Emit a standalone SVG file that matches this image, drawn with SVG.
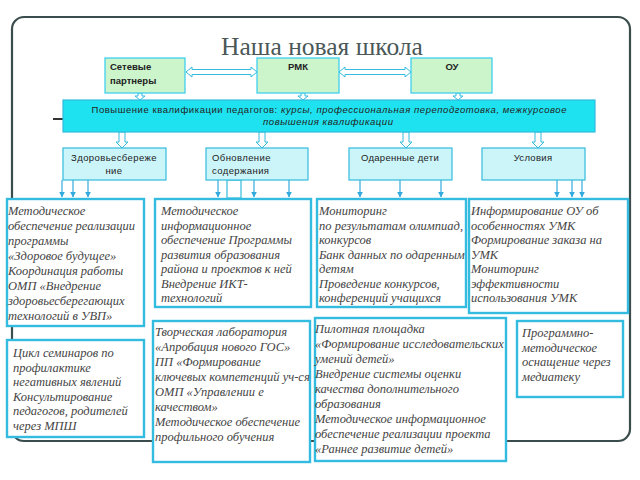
<svg xmlns="http://www.w3.org/2000/svg" width="640" height="480" viewBox="0 0 640 480">
<defs>
<style>
.frame{fill:#fff;stroke:#3a4c4c;stroke-width:2.2}
.top{fill:#ccf5cc;stroke:#33ccee;stroke-width:1.2}
.bar{fill:#1ee2f0;stroke:#33bbdd;stroke-width:1.2}
.r2{fill:#ccf5fa;stroke:#33bbdd;stroke-width:1.2}
.r3{fill:#fff;stroke:#33bbe0;stroke-width:2.4}
.ha{fill:#fff;stroke:#33bbe0;stroke-width:1}
.ta{stroke:#33aadd;stroke-width:1.2;fill:none;marker-end:url(#ah)}
.sans{font-family:"Liberation Sans",Arial,sans-serif;font-size:9.5px;fill:#222}
.b{font-weight:bold}
.it{font-family:"Liberation Serif","Times New Roman",serif;font-style:italic;font-size:12.5px;fill:#444}
.title{font-family:"Liberation Serif","Times New Roman",serif;font-size:25.5px;fill:#4a5858}
</style>
<marker id="ah" viewBox="0 0 10 10" refX="9" refY="5" markerWidth="6" markerHeight="6" orient="auto" markerUnits="userSpaceOnUse">
<path d="M0,0 L10,5 L0,10 z" fill="#33aadd"/>
</marker>
</defs>
<rect width="640" height="480" fill="#fff"/>
<rect class="frame" x="12" y="17" width="618" height="424" rx="12"/>
<text class="title" x="322" y="55" text-anchor="middle">Наша новая школа</text>
<line x1="53" y1="119" x2="63" y2="119" stroke="#333" stroke-width="2"/>

<g id="connectors">
<polygon class="ha" points="186,72 192,67 192,69.5 251,69.5 251,67 257,72 251,77 251,74.5 192,74.5 192,77"/>
<polygon class="ha" points="339,72 345,67 345,69.5 405,69.5 405,67 411,72 405,77 405,74.5 345,74.5 345,77"/>
<polygon class="ha" points="138,93 142,93 142,96 145,96 140,100 135,96 138,96"/>
<polygon class="ha" points="301,93 305,93 305,96 308,96 303,100 298,96 301,96"/>
<polygon class="ha" points="456,93 460,93 460,96 463,96 458,100 453,96 456,96"/>
<polygon class="ha" points="119,132 125,132 125,142 128,142 122,148 116,142 119,142"/>
<polygon class="ha" points="259,132 265,132 265,142 268,142 262,148 256,142 259,142"/>
<polygon class="ha" points="403,132 409,132 409,142 412,142 406,148 400,142 403,142"/>
<polygon class="ha" points="535,132 541,132 541,142 544,142 538,148 532,142 535,142"/>
<line class="ta" x1="62" y1="180" x2="62" y2="197"/>
<line class="ta" x1="73" y1="180" x2="73" y2="197"/>
<line class="ta" x1="88" y1="180" x2="88" y2="197"/>
<line class="ta" x1="218" y1="180" x2="218" y2="197"/>
<line class="ta" x1="254" y1="180" x2="254" y2="197"/>
<line class="ta" x1="289" y1="180" x2="289" y2="197"/>
<rect x="227" y="180" width="14" height="18" fill="#fff" stroke="#33bbdd" stroke-width="1.2"/>
<line class="ta" x1="360" y1="180" x2="360" y2="197"/>
<line class="ta" x1="400" y1="180" x2="400" y2="197"/>
<line class="ta" x1="441" y1="180" x2="441" y2="197"/>
<line class="ta" x1="557" y1="180" x2="557" y2="197"/>
<line class="ta" x1="572" y1="180" x2="572" y2="197"/>
<line class="ta" x1="582" y1="180" x2="582" y2="197"/>
</g>

<g id="n-partners">
<rect class="top" x="105" y="58" width="80" height="35"/>
<text class="sans b" x="110" y="70">Сетевые</text>
<text class="sans b" x="110" y="84">партнеры</text>
</g>
<g id="n-rmk">
<rect class="top" x="257" y="58" width="82" height="35"/>
<text class="sans b" x="298" y="70" text-anchor="middle">РМК</text>
</g>
<g id="n-ou">
<rect class="top" x="411" y="58" width="81" height="35"/>
<text class="sans b" x="452" y="70" text-anchor="middle">ОУ</text>
</g>
<g id="n-bar">
<rect class="bar" x="63" y="100" width="532" height="32"/>
<text class="sans" x="329" y="113" text-anchor="middle" textLength="475" lengthAdjust="spacing">Повышение квалификации педагогов: <tspan font-style="italic">курсы, профессиональная переподготовка, межкурсовое</tspan></text>
<text class="sans" x="328" y="125" text-anchor="middle" font-style="italic" textLength="130" lengthAdjust="spacing">повышения квалификации</text>
</g>
<g id="n-health">
<rect class="r2" x="63" y="148" width="103" height="32"/>
<text class="sans" x="114" y="161" text-anchor="middle" letter-spacing="0.4">Здоровьесбереже</text>
<text class="sans" x="114" y="174" text-anchor="middle" letter-spacing="0.4">ние</text>
</g>
<g id="n-content">
<rect class="r2" x="206" y="148" width="102" height="32"/>
<text class="sans" x="212" y="161" letter-spacing="0.4">Обновление</text>
<text class="sans" x="212" y="174" letter-spacing="0.4">содержания</text>
</g>
<g id="n-gifted">
<rect class="r2" x="349" y="148" width="103" height="32"/>
<text class="sans" x="400" y="161" text-anchor="middle" letter-spacing="0.3">Одаренные дети</text>
</g>
<g id="n-cond">
<rect class="r2" x="482" y="148" width="103" height="32"/>
<text class="sans" x="533" y="161" text-anchor="middle" letter-spacing="0.3">Условия</text>
</g>

<g id="n-a">
<rect class="r3" x="7" y="199" width="137" height="127"/>
<text class="it"><tspan x="8" y="215">Методическое</tspan><tspan x="8" y="230">обеспечение реализации</tspan><tspan x="8" y="245">программы</tspan><tspan x="8" y="260">«Здоровое будущее»</tspan><tspan x="8" y="275">Координация работы</tspan><tspan x="8" y="290">ОМП «Внедрение</tspan><tspan x="8" y="305">здоровьесберегающих</tspan><tspan x="8" y="320">технологий в УВП»</tspan></text>
</g>
<g id="n-b">
<rect class="r3" x="155" y="199" width="156" height="108"/>
<text class="it"><tspan x="161" y="215">Методическое</tspan><tspan x="161" y="229.5">информационное</tspan><tspan x="161" y="244">обеспечение  Программы</tspan><tspan x="161" y="258.5">развития образования</tspan><tspan x="161" y="273">района и проектов к ней</tspan><tspan x="161" y="287.5">Внедрение ИКТ-</tspan><tspan x="161" y="302">технологий</tspan></text>
</g>
<g id="n-c">
<rect class="r3" x="317" y="199" width="149" height="108"/>
<text class="it"><tspan x="319" y="215">Мониторинг</tspan><tspan x="319" y="229.5">по результатам олимпиад,</tspan><tspan x="319" y="244">конкурсов</tspan><tspan x="319" y="258.5">Банк данных по одаренным</tspan><tspan x="319" y="273">детям</tspan><tspan x="319" y="287.5">Проведение конкурсов,</tspan><tspan x="319" y="302">конференций  учащихся</tspan></text>
</g>
<g id="n-d">
<rect class="r3" x="469" y="199" width="159" height="114"/>
<text class="it"><tspan x="471" y="215">Информирование ОУ об</tspan><tspan x="471" y="229.5">особенностях УМК</tspan><tspan x="471" y="244">Формирование заказа на</tspan><tspan x="471" y="258.5">УМК</tspan><tspan x="471" y="273">Мониторинг</tspan><tspan x="471" y="287.5">эффективности</tspan><tspan x="471" y="302">использования УМК</tspan></text>
</g>
<g id="n-e">
<rect class="r3" x="7" y="340" width="137" height="97"/>
<text class="it"><tspan x="13" y="357">Цикл семинаров по</tspan><tspan x="13" y="371.6">профилактике</tspan><tspan x="13" y="386.2">негативных явлений</tspan><tspan x="13" y="400.8">Консультирование</tspan><tspan x="13" y="415.4">педагогов, родителей</tspan><tspan x="13" y="430">через МПШ</tspan></text>
</g>
<g id="n-f">
<rect class="r3" x="153" y="321" width="157" height="141"/>
<text class="it"><tspan x="155" y="336">Творческая лаборатория</tspan><tspan x="155" y="351">«Апробация нового ГОС»</tspan><tspan x="155" y="366">ПП «Формирование</tspan><tspan x="155" y="381">ключевых компетенций уч-ся</tspan><tspan x="155" y="396">ОМП «Управлении е</tspan><tspan x="155" y="411">качеством»</tspan><tspan x="155" y="426">Методическое обеспечение</tspan><tspan x="155" y="441">профильного обучения</tspan></text>
</g>
<g id="n-g">
<rect class="r3" x="315" y="318" width="191" height="143"/>
<text class="it"><tspan x="315" y="333">Пилотная площадка</tspan><tspan x="315" y="348">«Формирование исследовательских</tspan><tspan x="315" y="363">умений детей»</tspan><tspan x="315" y="378">Внедрение системы оценки</tspan><tspan x="315" y="393">качества дополнительного</tspan><tspan x="315" y="408">образования</tspan><tspan x="315" y="423">Методическое информационное</tspan><tspan x="315" y="438">обеспечение реализации проекта</tspan><tspan x="315" y="453">«Раннее развитие детей»</tspan></text>
</g>
<g id="n-h">
<rect class="r3" x="517" y="321" width="106" height="76"/>
<text class="it"><tspan x="522" y="337">Программно-</tspan><tspan x="522" y="351.5">методическое</tspan><tspan x="522" y="366">оснащение через</tspan><tspan x="522" y="380.5">медиатеку</tspan></text>
</g>
</svg>
